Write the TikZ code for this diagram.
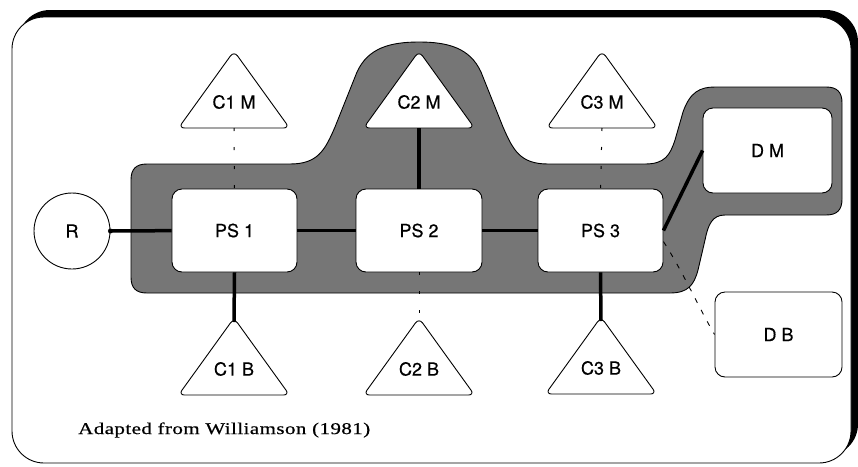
\documentclass[tikz,border=0pt]{standalone}
\usepackage{fontspec}
\usepackage{graphicx}
\newfontfamily\labfont[FakeBold=0.6]{TeX Gyre Heros}
\newfontfamily\capfont[LetterSpace=2,FakeBold=0.5]{Liberation Serif}
\usetikzlibrary{calc}
\definecolor{bandgray}{RGB}{118,118,118}
\newcommand\mytri[4]{%
  \draw[tristyle] (#2,#3+73) -- (#2+55.5,#3+73) -- (#2,#3-4) -- (#2-55.5,#3+73) -- cycle;
  \coordinate (#1-top) at (#2,#3);
  \coordinate (#1-bot) at (#2,#3+73);
  \node[lab] (#1) at (#2,#3+47) {#4};
}
\begin{document}
\begin{tikzpicture}[x={(1pt,0)},y={(0,-1pt)},
  lab/.style={font=\labfont\fontsize{18}{22}\selectfont, inner sep=0pt},
  box/.style={draw=black, line width=0.9pt, fill=white, rounded corners=10pt,
    minimum width=125pt, minimum height=83pt, inner sep=0pt,
    font=\labfont\fontsize{18}{22}\selectfont},
  tristyle/.style={draw=black, line width=0.9pt, fill=white, rounded corners=6pt},
  thickline/.style={line width=3.5pt},
  dotline/.style={line width=1pt, dash pattern=on 3pt off 16pt},
  dashline/.style={line width=0.9pt, dash pattern=on 5pt off 8pt},
  band/.style={fill=bandgray, draw=black, line width=0.9pt}]
\useasboundingbox (0,0) rectangle (858,466);
% frame with shadow
\fill[black, rounded corners=32pt] (18,10) rectangle (858,456);
\draw[fill=white, line width=0.9pt, rounded corners=32pt] (12,17) rectangle (851,463);
% gray band
\path[band]
  (147,164) -- (290,164)
  .. controls (318,164) and (325,150) .. (335,127) -- (357,72)
  .. controls (368,48) and (390,42) .. (419,42)
  .. controls (448,42) and (470,48) .. (481,72) -- (503,127)
  .. controls (513,150) and (520,164) .. (548,164)
  -- (645,164) .. controls (665,164) and (670,155) .. (675,140) -- (683,112)
  .. controls (690,92) and (700,87) .. (715,87)
  -- (826,87) .. controls (837,87) and (842,92) .. (842,103)
  -- (842,199) .. controls (842,210) and (837,215) .. (826,215)
  -- (725,215) .. controls (712,215) and (708,225) .. (705,240) -- (698,270)
  .. controls (694,285) and (688,293) .. (670,293)
  -- (147,293) .. controls (136,293) and (131,288) .. (131,277)
  -- (131,180) .. controls (131,169) and (136,164) .. (147,164) -- cycle;
% nodes
\node[draw=black, line width=0.9pt, fill=white, circle, minimum size=76pt, inner sep=0pt,
  font=\labfont\fontsize{18}{22}\selectfont] (R) at (72,231) {R};
\node[box] (PS1) at (234.5,230.5) {PS 1};
\node[box, minimum width=126pt] (PS2) at (419,230.5) {PS 2};
\node[box] (PS3) at (600.5,230.5) {PS 3};
\node[box, minimum width=129pt, minimum height=85pt] (DM) at (767.5,150.5) {D M};
\node[box, minimum width=127pt, minimum height=85pt] (DB) at (778.5,334.5) {D B};
\mytri{C1M}{234}{55}{C1 M}
\mytri{C2M}{419}{55}{C2 M}
\mytri{C3M}{602}{55}{C3 M}
\mytri{C1B}{234}{322}{C1 B}
\mytri{C2B}{419}{322}{C2 B}
\mytri{C3B}{601}{321}{C3 B}
% connectors
\draw[thickline] (R) -- (PS1);
\fill (R.east) circle (2.5pt);
\draw[thickline] (PS1) -- (PS2);
\draw[thickline] (PS2) -- (PS3);
\draw[thickline] (PS3.east) -- (DM.west);
\draw[thickline] (C2M-bot) -- (PS2.north);
\draw[thickline] (PS1.south) -- (C1B-top);
\draw[thickline] (PS3.south) -- (C3B-top);
\draw[dotline] (C1M-bot) -- (PS1.north);
\draw[dotline] (C3M-bot) -- (PS3.north);
\draw[dotline] (PS2.south) -- (C2B-top);
\draw[dashline] (PS3.-10) .. controls (682,270) and (700,310) .. (DB.west);
% caption
\node[font=\capfont\fontsize{16.5}{20}\selectfont, anchor=west, inner sep=0pt] (cap) at (78,430) {\resizebox{292pt}{\height}{Adapted from Williamson (1981)}};
\end{tikzpicture}
\end{document}
